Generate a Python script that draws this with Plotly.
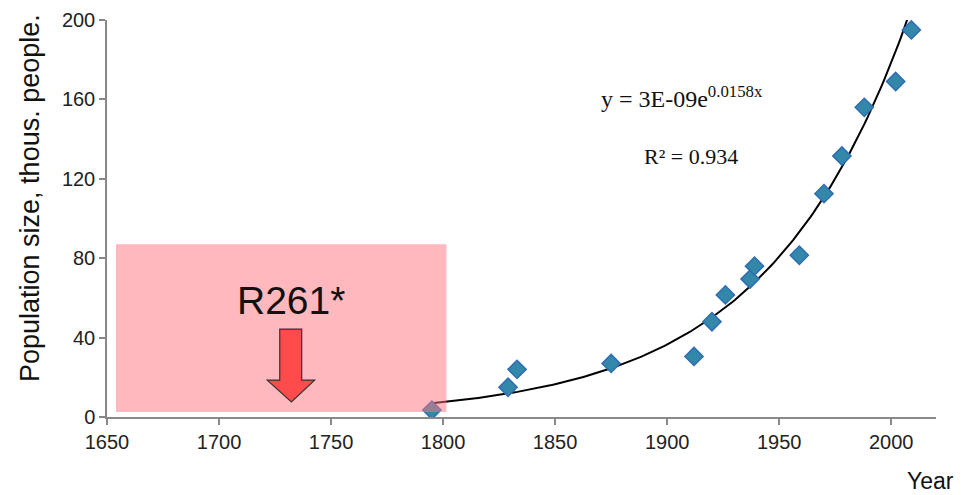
import numpy as np
import plotly.graph_objects as go

years = [1795, 1829, 1833, 1875, 1912, 1920, 1926, 1937, 1939, 1959, 1970, 1978, 1988, 2002, 2009]
population = [3.5, 15, 24, 27, 30.5, 48, 61.5, 69.5, 76, 81.5, 112.5, 131.5, 156, 169, 195]

x_ticks = [1650, 1700, 1750, 1800, 1850, 1900, 1950, 2000]
y_ticks = [0, 40, 80, 120, 160, 200]

# exponential trendline (least squares on log, as in spreadsheet trendlines)
b, ln_a = np.polyfit(np.array(years, float), np.log(np.array(population, float)), 1)
trend_x = np.linspace(1795, 2012, 200)
trend_y = np.exp(ln_a + b * trend_x)

fig = go.Figure()
fig.add_trace(go.Scatter(x=trend_x, y=trend_y, mode="lines",
                         line=dict(color="black", width=2), hoverinfo="skip"))
fig.add_trace(go.Scatter(x=years, y=population, mode="markers",
                         marker=dict(symbol="diamond", size=14, color="#3388AA",
                                     line=dict(color="#2F6DB5", width=1.5))))

# pink region
fig.add_shape(type="rect", xref="x", yref="y", x0=1654, x1=1801.5, y0=2.5, y1=87,
              fillcolor="rgba(255,115,125,0.5)", line=dict(width=0), layer="above")
# arrow
fig.add_shape(type="path", xref="x", yref="y",
              path="M 1727.1 44.3 L 1736.9 44.3 L 1736.9 18.6 L 1742.7 18.6 L 1732.3 7.6 "
                   "L 1721.5 18.6 L 1727.1 18.6 Z",
              fillcolor="#FF4B4B", line=dict(color="#333333", width=1.2), layer="above")

def note(x, y, text, size, family, xref="paper", yref="paper", angle=0):
    fig.add_annotation(x=x, y=y, xref=xref, yref=yref, text=text, showarrow=False,
                       xanchor="center", yanchor="middle", textangle=angle,
                       font=dict(family=family, size=size, color="#111111"))

SANS = "Arial, Liberation Sans"
SERIF = "Liberation Serif, Times New Roman"
note(1732, 58.5, "R261*", 39, SANS, xref="x", yref="y")
note(0.6936, 0.806, "y = 3E-09e<sup>0.0158x</sup>", 24, SERIF)
note(0.7045, 0.657, "R² = 0.934", 22, SERIF)
note(-0.0929, 0.5516, "Population size, thous. people.", 27, SANS, angle=-90)
note(0.9928, -0.161, "Year", 23, SANS)

fig.update_layout(
    width=961, height=487,
    margin=dict(l=99, r=33, t=12, b=78, autoexpand=False),
    plot_bgcolor="white", paper_bgcolor="white",
    showlegend=False,
    font=dict(family=SANS, size=20, color="#222222"),
)
fig.update_xaxes(range=[1650, 2020], tickvals=x_ticks, ticktext=[str(v) for v in x_ticks],
                 showgrid=False, zeroline=False, showline=True, linecolor="#888888", linewidth=1.5,
                 ticks="outside", ticklen=6, tickcolor="#888888", tickwidth=1.5)
fig.update_yaxes(range=[0, 200], tickvals=y_ticks, ticktext=[str(v) for v in y_ticks],
                 showgrid=False, zeroline=False, showline=True, linecolor="#888888", linewidth=1.5,
                 ticks="outside", ticklen=6, tickcolor="#888888", tickwidth=1.5)

fig.write_html("out.html")
